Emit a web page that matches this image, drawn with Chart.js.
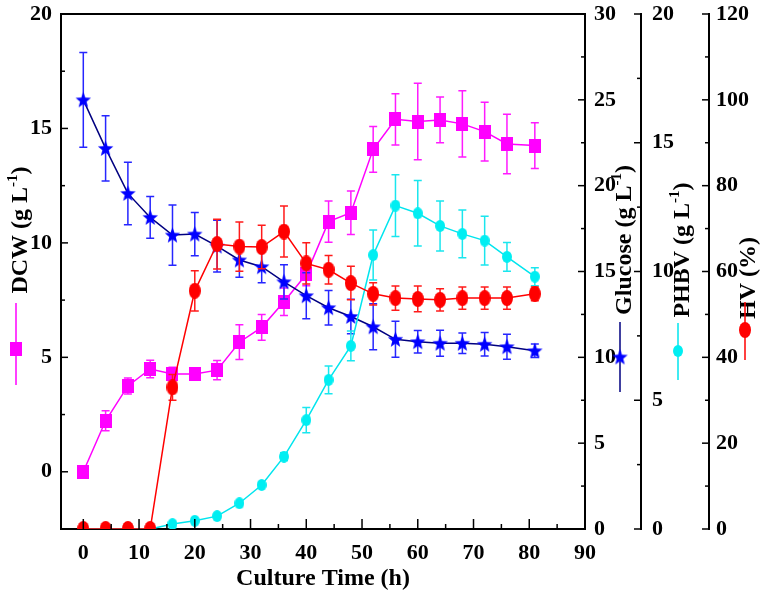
<!DOCTYPE html>
<html lang="en">
<head>
  <meta charset="UTF-8" />
  <title>Culture time course</title>
  <script src="https://cdn.jsdelivr.net/npm/chart.js"></script>
  <style>
    html, body {
      margin: 0;
      padding: 0;
      background: #ffffff;
    }
    #wrap {
      width: 763px;
      height: 608px;
    }
  </style>
</head>
<body>
  <div id="wrap"><canvas id="chart" width="763" height="608"></canvas></div>

  <script>
    // culture time (h)
    const TIME = [0, 4, 8, 12, 16, 20, 24, 28, 32, 36, 40, 44, 48, 52, 56, 60, 64, 68, 72, 76, 81];

    // DCW (g/L), left axis
    const DCW     = [0, 2.23, 3.75, 4.49, 4.27, 4.27, 4.44, 5.66, 6.31, 7.43, 8.63, 10.93, 11.32, 14.09, 15.4, 15.3, 15.37, 15.2, 14.86, 14.32, 14.25];
    const DCW_ERR = [0, 0.44, 0.35, 0.38, 0.3, 0.2, 0.42, 0.76, 0.56, 0.6, 0.5, 0.9, 0.95, 1.0, 1.12, 1.67, 1.0, 1.45, 1.28, 1.3, 1.0];

    // glucose (g/L)
    const GLUCOSE     = [25.0, 22.17, 19.55, 18.15, 17.12, 17.18, 16.48, 15.67, 15.28, 14.4, 13.59, 12.89, 12.38, 11.78, 11.05, 10.91, 10.82, 10.82, 10.76, 10.62, 10.38];
    const GLUCOSE_ERR = [2.76, 1.9, 1.82, 1.22, 1.75, 1.26, 1.51, 1.0, 0.93, 1.0, 1.34, 1.0, 1.0, 1.34, 1.05, 0.66, 0.76, 0.6, 0.68, 0.73, 0.39];

    // PHBV (g/L)
    const PHBV     = [0, 0, 0, 0, 0.19, 0.32, 0.5, 1.0, 1.71, 2.81, 4.23, 5.79, 7.11, 10.64, 12.56, 12.26, 11.77, 11.46, 11.2, 10.57, 9.8];
    const PHBV_ERR = [0, 0, 0, 0, 0, 0, 0, 0, 0, 0.15, 0.49, 0.54, 0.58, 0.97, 1.2, 1.27, 0.97, 0.93, 0.95, 0.56, 0.35];

    // HV (%)
    const HV     = [0, 0, 0, 0, 33.0, 55.5, 66.4, 65.8, 65.7, 69.3, 61.9, 60.4, 57.3, 54.8, 53.8, 53.6, 53.4, 53.8, 53.8, 53.8, 54.8];
    const HV_ERR = [0, 0, 0, 0, 3.0, 4.7, 5.8, 5.75, 5.05, 5.95, 4.8, 3.3, 3.9, 2.6, 2.8, 3.0, 2.6, 2.6, 2.6, 2.6, 1.6];

    // tick labels
    const X_TICKS = [0, 10, 20, 30, 40, 50, 60, 70, 80, 90];
    const X_MINOR = [5, 15, 25, 35, 45, 55, 65, 75, 85];
    const DCW_TICKS = [0, 5, 10, 15, 20];
    const DCW_MINOR = [2.5, 7.5, 12.5, 17.5];
    const GLU_TICKS = [0, 5, 10, 15, 20, 25, 30];
    const GLU_MINOR = [2.5, 7.5, 12.5, 17.5, 22.5, 27.5];
    const PHBV_TICKS = [0, 5, 10, 15, 20];
    const PHBV_MINOR = [2.5, 7.5, 12.5, 17.5];
    const HV_TICKS = [0, 20, 40, 60, 80, 100, 120];
    const HV_MINOR = [10, 30, 50, 70, 90, 110];

    const SERIF = "'Liberation Serif', 'Times New Roman', serif";
    const tickFont = { family: SERIF, weight: 'bold', size: 22 };

    // marker images
    function marker(w, h, draw) {
      const c = document.createElement('canvas');
      c.width = w;
      c.height = h;
      draw(c.getContext('2d'), w, h);
      return c;
    }
    const squareMark = marker(12, 14, (g, w, h) => {
      g.fillStyle = '#ff00ff';
      g.fillRect(0, 0, w, h);
    });
    const starMark = marker(17, 17, (g, w, h) => {
      g.fillStyle = '#0000ff';
      g.beginPath();
      for (let i = 0; i < 10; i++) {
        const r = i % 2 === 0 ? 8.5 : 3.6;
        const a = -Math.PI / 2 + i * Math.PI / 5;
        g.lineTo(w / 2 + r * Math.cos(a) * 0.95, h / 2 + 0.6 + r * Math.sin(a));
      }
      g.closePath();
      g.fill();
    });
    const ovalMark = (w, h, color) => marker(w, h, (g) => {
      g.fillStyle = color;
      g.beginPath();
      g.ellipse(w / 2, h / 2, w / 2, h / 2, 0, 0, Math.PI * 2);
      g.fill();
    });
    const redMark = ovalMark(12, 16, '#ff0000');
    const cyanMark = ovalMark(10, 12, '#00eef2');

    const pts = (ys) => TIME.map((t, i) => ({ x: t, y: ys[i] }));

    const series = [
      { label: 'HV (%)', data: pts(HV), err: HV_ERR, axis: 'yHV', line: '#ff0000', errColor: '#ff1a1a', mark: redMark, order: 0 },
      { label: 'PHBV (g L-1)', data: pts(PHBV), err: PHBV_ERR, axis: 'yPHBV', line: '#00e5ee', errColor: '#1ae6ee', mark: cyanMark, order: 1 },
      { label: 'Glucose (g L-1)', data: pts(GLUCOSE), err: GLUCOSE_ERR, axis: 'yGlu', line: '#000080', errColor: '#2626ff', mark: starMark, order: 2 },
      { label: 'DCW (g L-1)', data: pts(DCW), err: DCW_ERR, axis: 'yDCW', line: '#ff00ff', errColor: '#ff1aff', mark: squareMark, order: 3 }
    ];

    // error bars, drawn just before each dataset's line and markers
    const errorBars = {
      id: 'errorBars',
      beforeDatasetDraw(chart, args) {
        const ds = chart.data.datasets[args.index];
        if (!ds.err) return;
        const ctx = chart.ctx;
        const ys = chart.scales[ds.yAxisID];
        ctx.save();
        ctx.strokeStyle = ds.errColor;
        ctx.lineWidth = 1.5;
        args.meta.data.forEach((p, i) => {
          const e = ds.err[i];
          if (!e) return;
          const v = ds.data[i].y;
          const top = ys.getPixelForValue(v + e);
          const bot = ys.getPixelForValue(v - e);
          ctx.beginPath();
          ctx.moveTo(p.x, top);
          ctx.lineTo(p.x, bot);
          ctx.moveTo(p.x - 4, top);
          ctx.lineTo(p.x + 4, top);
          ctx.moveTo(p.x - 4, bot);
          ctx.lineTo(p.x + 4, bot);
          ctx.stroke();
        });
        ctx.restore();
      }
    };

    function vTitle(ctx, cx, cy, main, sup, tail) {
      const big = 'bold 24px ' + SERIF;
      const small = 'bold 15px ' + SERIF;
      ctx.save();
      ctx.translate(cx, cy);
      ctx.rotate(-Math.PI / 2);
      ctx.fillStyle = '#000';
      ctx.textBaseline = 'alphabetic';
      ctx.font = big;
      const w1 = ctx.measureText(main).width;
      const w3 = ctx.measureText(tail).width;
      ctx.font = small;
      const w2 = sup ? ctx.measureText(sup).width : 0;
      let x = -(w1 + w2 + w3) / 2;
      ctx.font = big;
      ctx.fillText(main, x, 8);
      x += w1;
      if (sup) {
        ctx.font = small;
        ctx.fillText(sup, x, -2);
        x += w2;
      }
      ctx.font = big;
      ctx.fillText(tail, x, 8);
      ctx.restore();
    }

    function legendMark(ctx, x, y1, y2, ym, color, img) {
      ctx.save();
      ctx.strokeStyle = color;
      ctx.lineWidth = 1.5;
      ctx.beginPath();
      ctx.moveTo(x, y1);
      ctx.lineTo(x, y2);
      ctx.stroke();
      ctx.drawImage(img, x - img.width / 2, ym - img.height / 2);
      ctx.restore();
    }

    // frame top, inward tick marks, axis titles with their symbols
    const decorations = {
      id: 'decorations',
      afterDraw(chart) {
        const ctx = chart.ctx;
        const a = chart.chartArea;
        const s = chart.scales;
        ctx.save();
        ctx.strokeStyle = '#000';
        ctx.lineWidth = 2;
        ctx.beginPath();
        ctx.moveTo(a.left - 1, a.top);
        ctx.lineTo(a.right + 1, a.top);
        ctx.stroke();

        ctx.lineWidth = 1.5;
        const xTicks = (vals, len) => vals.forEach(v => {
          const px = s.x.getPixelForValue(v);
          ctx.beginPath();
          ctx.moveTo(px, a.bottom);
          ctx.lineTo(px, a.bottom - len);
          ctx.stroke();
        });
        xTicks(X_TICKS, 10);
        xTicks(X_MINOR, 5);

        const yTicks = (sc, vals, len, dir) => vals.forEach(v => {
          const py = sc.getPixelForValue(v);
          const x0 = sc.position === 'left' ? sc.right : sc.left;
          ctx.beginPath();
          ctx.moveTo(x0, py);
          ctx.lineTo(x0 + dir * len, py);
          ctx.stroke();
        });
        yTicks(s.yDCW, DCW_TICKS, 7, 1);
        yTicks(s.yDCW, DCW_MINOR, 4, 1);
        yTicks(s.yGlu, GLU_TICKS, 7, -1);
        yTicks(s.yGlu, GLU_MINOR, 4, -1);
        yTicks(s.yPHBV, PHBV_TICKS, 7, -1);
        yTicks(s.yPHBV, PHBV_MINOR, 4, -1);
        yTicks(s.yHV, HV_TICKS, 7, -1);
        yTicks(s.yHV, HV_MINOR, 4, -1);
        ctx.restore();

        ctx.save();
        ctx.fillStyle = '#000';
        ctx.font = 'bold 24px ' + SERIF;
        ctx.textAlign = 'center';
        ctx.textBaseline = 'middle';
        ctx.fillText('Culture Time (h)', (a.left + a.right) / 2, 579);
        ctx.restore();

        vTitle(ctx, 19, 230, 'DCW (g L', '-1', ')');
        legendMark(ctx, 16, 303, 385, 349, '#ff00ff', squareMark);

        vTitle(ctx, 623, 240, 'Glucose (g L', '-1', ')');
        legendMark(ctx, 620, 322, 392, 357, '#000080', starMark);

        vTitle(ctx, 681, 250, 'PHBV (g L', '-1', ')');
        legendMark(ctx, 678, 323, 380, 351, '#00e5ee', cyanMark);

        vTitle(ctx, 747, 278, 'HV (%)', '', '');
        legendMark(ctx, 745, 302, 360, 330, '#ff0000', redMark);
      }
    };

    const fixTicks = (vals) => (sc) => { sc.ticks = vals.map(v => ({ value: v })); };
    const fitY = (w) => (sc) => {
      sc.width = w;
      sc.paddingTop = 0;
      sc.paddingBottom = 0;
    };
    const yAxis = (pos, min, max, vals, w, pad) => ({
      type: 'linear',
      position: pos,
      min,
      max,
      afterBuildTicks: fixTicks(vals),
      afterFit: fitY(w),
      grid: { display: false, drawTicks: false },
      border: { display: true, color: '#000', width: 2 },
      ticks: { font: tickFont, color: '#000', padding: pad, autoSkip: false, maxRotation: 0 }
    });

    new Chart(document.getElementById('chart'), {
      type: 'line',
      data: {
        datasets: series.map(d => ({
          label: d.label,
          data: d.data,
          err: d.err,
          errColor: d.errColor,
          yAxisID: d.axis,
          order: d.order,
          clip: 0,
          borderColor: d.line,
          borderWidth: 1.5,
          backgroundColor: d.line,
          pointStyle: d.mark,
          pointRadius: 6,
          tension: 0
        }))
      },
      options: {
        responsive: false,
        animation: false,
        events: [],
        layout: { padding: { top: 14, left: 0, right: 0, bottom: 0 } },
        plugins: {
          legend: { display: false },
          tooltip: { enabled: false }
        },
        scales: {
          x: {
            type: 'linear',
            min: -4,
            max: 90,
            afterBuildTicks: fixTicks(X_TICKS),
            afterFit: (sc) => {
              sc.height = 79;
              sc.paddingLeft = 0;
              sc.paddingRight = 0;
            },
            grid: { display: false, drawTicks: false },
            border: { display: true, color: '#000', width: 2 },
            ticks: { font: tickFont, color: '#000', padding: 11, autoSkip: false, maxRotation: 0 }
          },
          yDCW: yAxis('left', -2.5, 20, DCW_TICKS, 61, 9),
          yGlu: yAxis('right', 0, 30, GLU_TICKS, 56, 9),
          yPHBV: yAxis('right', 0, 20, PHBV_TICKS, 68, 11),
          yHV: yAxis('right', 0, 120, HV_TICKS, 54, 7)
        }
      },
      plugins: [errorBars, decorations]
    });
  </script>
</body>
</html>
